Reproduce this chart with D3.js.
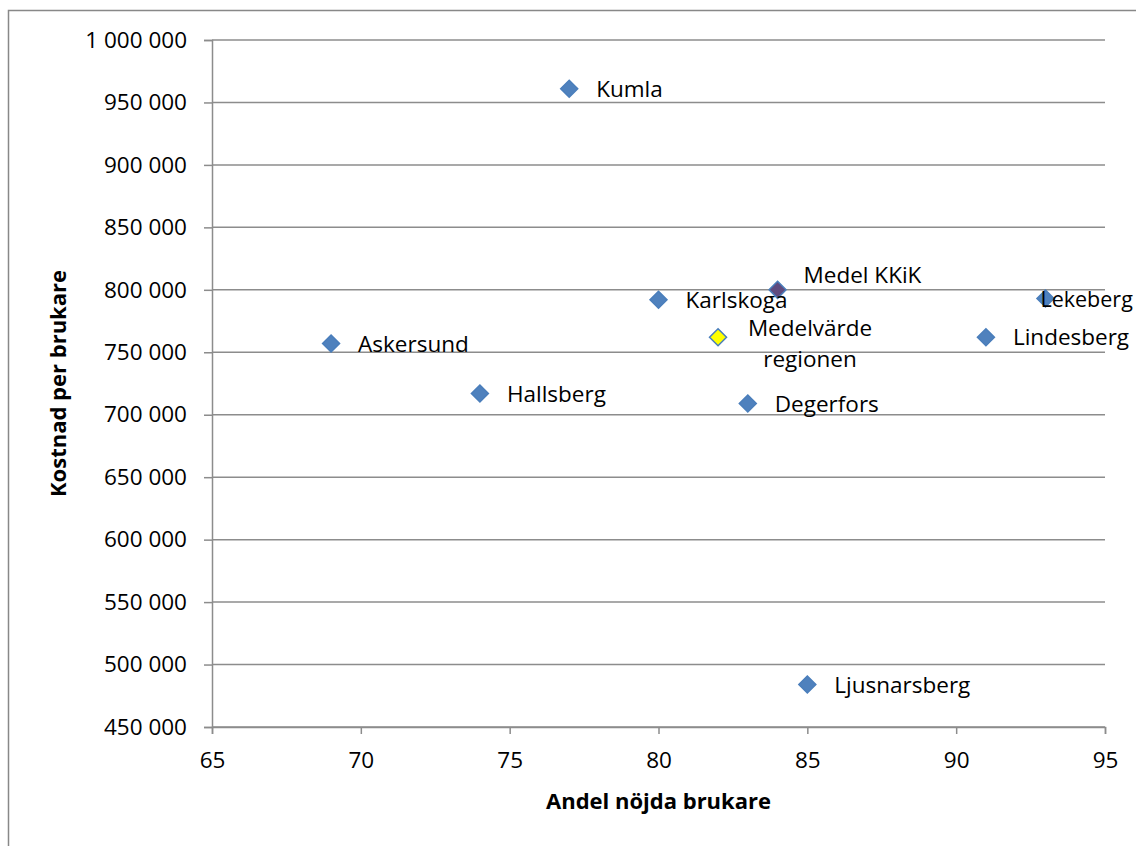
<!DOCTYPE html>
<html><head><meta charset="utf-8">
<script src="https://cdn.jsdelivr.net/npm/d3@7"></script>
<style>
body{margin:0;background:#fff;}
text{font-family:"Open Sans","Liberation Sans",sans-serif;fill:#000;}
</style></head>
<body><svg id="c" width="1136" height="846"></svg>
<script>
const names = ["Kumla","Karlskoga","Medel KKiK","Medelvärde regionen","Askersund","Hallsberg","Degerfors","Lindesberg","Lekeberg","Ljusnarsberg"];
const satisfied = [77,80,84,82,69,74,83,91,93,85];
const costPerUser = [961000,792000,800000,762000,757000,717000,709000,762000,793000,484000];
const xTicks = [65,70,75,80,85,90,95];
const yTicks = [450000,500000,550000,600000,650000,700000,750000,800000,850000,900000,950000,1000000];

const fills = {"Medel KKiK":"#5f4b7f","Medelvärde regionen":"#ffff00"};
const labelOffset = {
  "Medel KKiK":[26,-13],
  "Lekeberg":[-5,3],
  "Medelvärde regionen":[92,-7]
};

const svg = d3.select("#c");
const L=212,R=1105,T=40,B=727;
const x = d3.scaleLinear().domain([65,95]).range([L,R]);
const y = d3.scaleLinear().domain([450000,1000000]).range([B,T]);
const fmt = v => d3.format(",")(v).replace(/,/g," ");
const FS = 22.5;

svg.append("rect").attr("x",8.5).attr("y",10.5).attr("width",1140).attr("height",850)
  .attr("fill","none").attr("stroke","#888").attr("stroke-width",1.5);

svg.append("g").selectAll("line").data(yTicks).join("line")
  .attr("x1",L).attr("x2",R).attr("y1",d=>y(d)).attr("y2",d=>y(d))
  .attr("stroke","#8c8c8c").attr("stroke-width",1.5);

const ya = svg.append("g").attr("transform",`translate(${L},0)`)
  .call(d3.axisLeft(y).tickValues(yTicks).tickFormat(fmt).tickSize(8).tickPadding(17));
const xa = svg.append("g").attr("transform",`translate(0,${B})`)
  .call(d3.axisBottom(x).tickValues(xTicks).tickFormat(d=>d).tickSize(7).tickPadding(18));
[ya,xa].forEach(a=>{
  a.selectAll("path,line").attr("stroke","#8c8c8c").attr("stroke-width",1.5);
  a.selectAll("text").attr("font-size",FS).attr("font-family","'Open Sans',sans-serif");
});

const data = names.map((n,i)=>({n,x:satisfied[i],y:costPerUser[i]}));
const s=8.5;
svg.append("g").selectAll("path").data(data).join("path")
  .attr("d",`M0,${-s}L${s},0L0,${s}L${-s},0Z`)
  .attr("transform",d=>`translate(${x(d.x)},${y(d.y)})`)
  .attr("fill",d=>fills[d.n]||"#4f81bd")
  .attr("stroke","#4a7ebb").attr("stroke-width",1.5);

const lab = svg.append("g").selectAll("text").data(data).join("text")
  .attr("font-size",d=>d.n==="Lekeberg"?21.5:FS)
  .attr("x",d=>x(d.x)+(labelOffset[d.n]?labelOffset[d.n][0]:27))
  .attr("y",d=>y(d.y)+(labelOffset[d.n]?labelOffset[d.n][1]:2))
  .attr("dominant-baseline","middle")
  .attr("text-anchor",d=>d.n==="Medelvärde regionen"?"middle":"start");
lab.each(function(d){
  const t=d3.select(this);
  if(d.n==="Medelvärde regionen"){
    t.append("tspan").attr("x",+t.attr("x")).attr("dy",0).text("Medelvärde");
    t.append("tspan").attr("x",+t.attr("x")).attr("dy",31).text("regionen");
  } else t.text(d.n);
});

svg.append("text").attr("x",(L+R)/2).attr("y",803).attr("text-anchor","middle")
  .attr("dominant-baseline","middle").attr("font-weight","bold").attr("font-size",22)
  .text("Andel nöjda brukare");
svg.append("text").attr("transform",`translate(60,${(T+B)/2}) rotate(-90)`)
  .attr("text-anchor","middle").attr("dominant-baseline","middle")
  .attr("font-weight","bold").attr("font-size",22).text("Kostnad per brukare");
</script></body></html>
